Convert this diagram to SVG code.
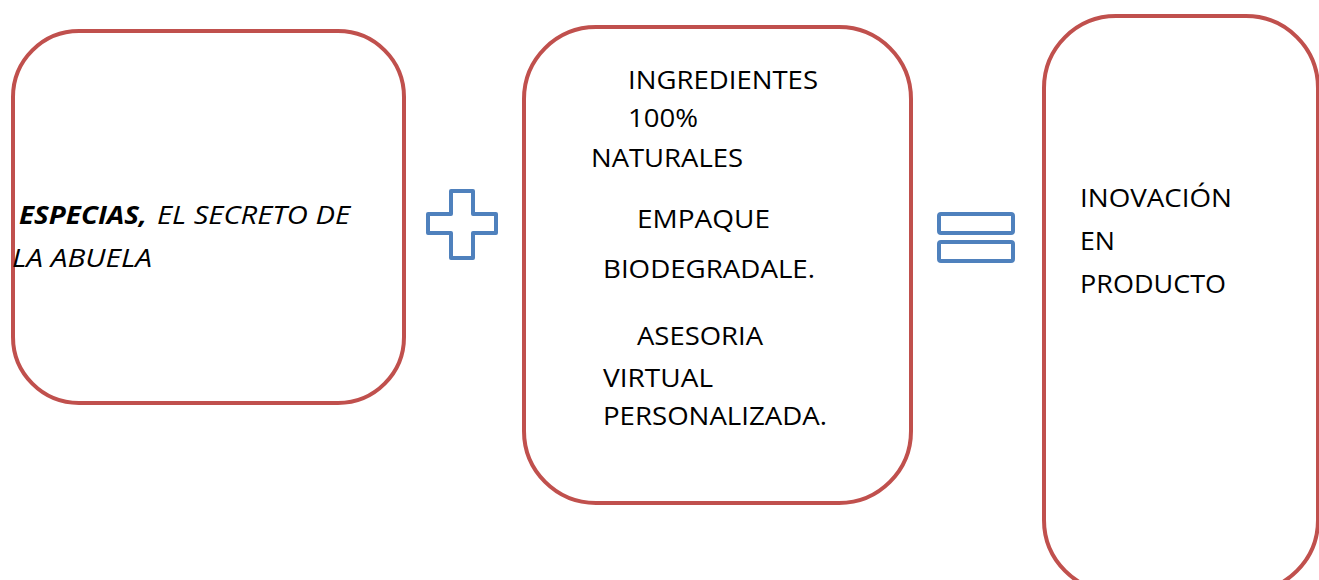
<svg xmlns="http://www.w3.org/2000/svg" width="1319" height="580" viewBox="0 0 1319 580">
<style>
.box{fill:#fff;stroke:#C0504D;stroke-width:4}
.op{fill:none;stroke:#4F81BD;stroke-width:4;stroke-linejoin:round}
.t{font-family:"Open Sans","Liberation Sans",sans-serif;font-size:25px;fill:#000}
.it{font-style:italic}
.bi{font-style:italic;font-weight:bold}
</style>
<rect width="1319" height="580" fill="#fff"/>
<g id="node-especias">
<rect class="box" x="13" y="31" width="391" height="372" rx="66" ry="66"/>
<text class="t bi" x="19" y="224" textLength="128" lengthAdjust="spacingAndGlyphs">ESPECIAS,</text>
<text class="t it" x="157" y="224" textLength="193" lengthAdjust="spacingAndGlyphs">EL SECRETO DE</text>
<text class="t it" x="12" y="267" textLength="140" lengthAdjust="spacingAndGlyphs">LA ABUELA</text>
</g>
<g id="node-plus">
<path class="op" d="M451,191 H473 V214 H496 V233 H473 V258 H451 V233 H428 V214 H451 Z"/>
</g>
<g id="node-features">
<rect class="box" x="524" y="27" width="387" height="476" rx="72" ry="72"/>
<text class="t" x="628" y="89" textLength="190" lengthAdjust="spacingAndGlyphs">INGREDIENTES</text>
<text class="t" x="628" y="127" textLength="70" lengthAdjust="spacingAndGlyphs">100%</text>
<text class="t" x="591" y="167" textLength="152" lengthAdjust="spacingAndGlyphs">NATURALES</text>
<text class="t" x="637" y="228" textLength="133" lengthAdjust="spacingAndGlyphs">EMPAQUE</text>
<text class="t" x="603" y="278" textLength="212" lengthAdjust="spacingAndGlyphs">BIODEGRADALE.</text>
<text class="t" x="637" y="345" textLength="126" lengthAdjust="spacingAndGlyphs">ASESORIA</text>
<text class="t" x="603" y="387" textLength="110" lengthAdjust="spacingAndGlyphs">VIRTUAL</text>
<text class="t" x="603" y="425" textLength="224" lengthAdjust="spacingAndGlyphs">PERSONALIZADA.</text>
</g>
<g id="node-equals">
<rect class="op" x="939" y="214" width="74" height="19" rx="2"/>
<rect class="op" x="939" y="242" width="74" height="19" rx="2"/>
</g>
<g id="node-innovacion">
<rect class="box" x="1044" y="16" width="274" height="576" rx="72" ry="72"/>
<text class="t" x="1080" y="207" textLength="152" lengthAdjust="spacingAndGlyphs">INOVACIÓN</text>
<text class="t" x="1080" y="250" textLength="35" lengthAdjust="spacingAndGlyphs">EN</text>
<text class="t" x="1080" y="293" textLength="146" lengthAdjust="spacingAndGlyphs">PRODUCTO</text>
</g>
<g id="connectors"></g>
</svg>
